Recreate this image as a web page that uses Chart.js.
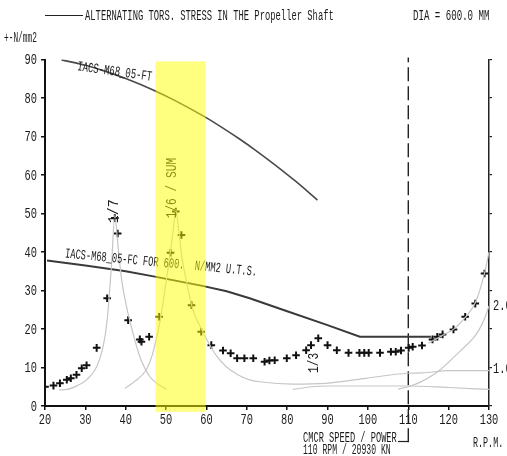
<!DOCTYPE html>
<html>
<head>
<meta charset="utf-8">
<script src="https://cdn.jsdelivr.net/npm/chart.js@4.4.1/dist/chart.umd.min.js"></script>
<style>
    body { margin: 0; background: #fff; }
    canvas { display: block; }
</style>
</head>
<body>
<canvas id="torsChart" width="507" height="456"></canvas>
<script>
// measured alternating stress (+ marks), rpm -> N/mm2
var sumRpm = [20, 22.1, 23.7, 25.4, 26.4, 27.8, 29.1, 30.3, 32.8, 35.4, 37.3, 38.0, 40.6, 43.5, 43.9, 45.8, 48.3, 51.1, 52.4, 53.8, 56.3, 58.7, 61.2, 64.1, 66.0, 67.6, 69.4, 71.6, 74.4, 75.6, 76.9, 79.9, 82.2, 84.7, 85.9, 87.7, 90.0, 92.3, 95.2, 97.9, 99.1, 100.2, 103.0, 105.7, 106.9, 108.2, 110.1, 111.1, 113.4, 116.0, 117.2, 118.5, 121.2, 124.1, 126.6, 128.9];
var sumStress = [5.0, 5.3, 5.9, 6.8, 7.2, 8.1, 9.8, 10.6, 15.1, 28.0, 48.8, 44.8, 22.3, 17.3, 16.7, 18.0, 23.2, 39.8, 50.5, 44.4, 26.2, 19.3, 15.8, 14.4, 13.7, 12.4, 12.4, 12.4, 11.5, 11.8, 11.9, 12.4, 13.2, 14.5, 15.8, 17.6, 15.8, 14.5, 13.8, 13.8, 13.8, 13.8, 13.8, 14.1, 14.1, 14.4, 15.1, 15.4, 15.7, 17.3, 18.0, 18.6, 19.9, 23.2, 26.6, 34.4];

// order curves (thin grey)
var ord7Rpm = [23.5, 25.4, 28, 30.3, 32.8, 34.4, 35.4, 36.5, 37.3, 38.1, 39.0, 40.2, 41.8, 43.5, 46.0, 50.1];
var ord7Stress = [4.2, 4.3, 5.3, 6.8, 10.2, 15.4, 22.3, 37.0, 49.5, 41.4, 32.7, 25.8, 18.9, 12.8, 7.6, 4.3];
var ord6Rpm = [39.8, 42.0, 45.1, 46.5, 48.4, 49.7, 50.9, 51.8, 52.4, 53.2, 54.0, 55.0, 56.5, 59.1, 61.0, 62.5, 64.9, 68.0, 70.7, 73.2, 81.4, 89.6, 99.5, 109.8, 113.5, 120.1, 130];
var ord6Stress = [4.6, 6.2, 9.4, 13.0, 21.5, 30.0, 38.8, 46.0, 51.0, 45.0, 38.0, 32.7, 25.5, 19.3, 15.5, 13.0, 10.2, 8.0, 6.8, 6.3, 5.7, 5.9, 7.2, 8.5, 8.6, 9.2, 9.2];
var ord3Rpm = [81.4, 86, 89.6, 100, 109.8, 120, 130];
var ord3Stress = [4.3, 5.0, 5.2, 5.2, 5.2, 4.8, 4.3];
var ordHiRpm = [107.5, 110, 113, 116, 118, 120.1, 122, 124, 126, 127.5, 129, 130];
var ordHiStress = [4.4, 5.0, 6.2, 8.0, 9.5, 11.5, 13.4, 15.4, 17.5, 19.7, 23.0, 26.0];
var sumLineRpm = [115, 118.5, 121.2, 124.1, 126.6, 128.9, 130];
var sumLineStress = [16.3, 18.4, 19.9, 23.0, 26.8, 34.5, 40.0];

// IACS limits
var ftRpm = [24.1, 30, 35.2, 40, 47.2, 52, 59.6, 64, 68.2, 72, 76.4, 82, 87.5];
var ftLimit = [89.9, 88.5, 86.85, 85.05, 81.9, 79.45, 75.1, 72.25, 69.35, 66.55, 63.1, 58.45, 53.5];
var fcRpm = [20.5, 30, 40, 47.2, 59, 65, 70.7, 80, 90, 98, 115.6];
var fcLimit = [37.8, 36.5, 35.0, 33.6, 31.2, 29.8, 28.0, 24.6, 21.0, 18.0, 18.0];

// barred speed range, CMCR speed, axis ticks
var barredRange = [47.4, 59.8];
var barredStress = [-1.5, 89.5];
var mcrRpm = [110, 110];
var mcrStress = [-9.4, 90.5];
var rpmTicks = [20, 30, 40, 50, 60, 70, 80, 90, 100, 110, 120, 130];
var stressTicks = [0, 10, 20, 30, 40, 50, 60, 70, 80, 90];
var rightLabels = ['1.0', '2.0'];
var rightLabelAt = [9.9, 26.2];

function zip(xs, ys) {
    return xs.map(function (v, i) { return { x: v, y: ys[i] }; });
}

function narrowText(ctx, s, x, y, o) {
    o = o || {};
    ctx.save();
    ctx.font = (o.size || 14) + 'px "Liberation Mono", monospace';
    ctx.fillStyle = o.color || '#1a1a1a';
    ctx.textAlign = o.align || 'left';
    ctx.textBaseline = o.base || 'alphabetic';
    ctx.translate(x, y);
    if (o.rot) ctx.rotate(o.rot);
    ctx.scale(o.sx || 0.65, 1);
    ctx.fillText(s, 0, 0);
    ctx.restore();
}

var deg = Math.PI / 180;

var plotTexts = {
    id: 'plotTexts',
    afterDatasetsDraw: function (chart) {
        var ctx = chart.ctx, xs = chart.scales.x, ys = chart.scales.y;
        var px = function (v) { return xs.getPixelForValue(v); };
        var py = function (v) { return ys.getPixelForValue(v); };

        narrowText(ctx, 'IACS-M68_05-FT', px(27.9), py(87.2), { rot: 8 * deg, sx: 0.64 });
        narrowText(ctx, 'IACS-M68_05-FC FOR 600.  N/MM2 U.T.S.', px(24.9), py(38.6), { rot: 5.5 * deg, sx: 0.62 });
        narrowText(ctx, '1/7', px(37.06), py(50.6), { rot: -90 * deg, align: 'center', base: 'middle', sx: 0.95 });
        narrowText(ctx, '1/6 / SUM', px(51.6), py(56.6), { rot: -90 * deg, align: 'center', base: 'middle', sx: 0.8 });
        narrowText(ctx, '1/3', px(86.75), py(11.2), { rot: -90 * deg, align: 'center', base: 'middle', sx: 0.8 });

        // barred range, laid over the curves
        var l = px(barredRange[0]), r = px(barredRange[1]);
        var t = py(barredStress[1]), b = py(barredStress[0]);
        ctx.save();
        ctx.fillStyle = 'rgba(255,255,0,0.5)';
        ctx.fillRect(l, t, r - l, b - t);
        ctx.restore();
    },
    afterDraw: function (chart) {
        var ctx = chart.ctx, xs = chart.scales.x, ys = chart.scales.y, y2 = chart.scales.y2;

        rpmTicks.forEach(function (v) {
            narrowText(ctx, String(v), xs.getPixelForValue(v), xs.top + 18, { align: 'center', sx: 0.74 });
        });
        stressTicks.forEach(function (v) {
            narrowText(ctx, String(v), ys.right - 8, ys.getPixelForValue(v) + 1, { align: 'right', base: 'middle', sx: 0.74 });
        });
        rightLabels.forEach(function (s, i) {
            narrowText(ctx, s, y2.left + 4, ys.getPixelForValue(rightLabelAt[i]) + 1, { base: 'middle', sx: 0.74 });
        });

        // header
        ctx.save();
        ctx.strokeStyle = '#222';
        ctx.lineWidth = 1;
        ctx.beginPath();
        ctx.moveTo(45, 15.5);
        ctx.lineTo(83, 15.5);
        ctx.stroke();
        ctx.restore();
        narrowText(ctx, 'ALTERNATING TORS. STRESS IN THE Propeller Shaft', 85, 20, { sx: 0.63 });
        narrowText(ctx, 'DIA = 600.0 MM', 413, 20, { sx: 0.65 });
        narrowText(ctx, '+-N/mm2', 4, 42, { sx: 0.56 });

        // footer
        var mx = xs.getPixelForValue(mcrRpm[0]);
        narrowText(ctx, 'CMCR SPEED / POWER', 303, 442, { sx: 0.62 });
        narrowText(ctx, '110 RPM / 20930 KN', 303, 453.5, { sx: 0.58 });
        narrowText(ctx, 'R.P.M.', 473, 447, { sx: 0.6 });
        ctx.save();
        ctx.strokeStyle = '#222';
        ctx.lineWidth = 1.2;
        ctx.beginPath();
        ctx.moveTo(398, 441.5);
        ctx.lineTo(mx, 441.5);
        ctx.stroke();
        ctx.restore();
    }
};

var greyLine = {
    showLine: true,
    pointRadius: 0,
    borderColor: '#c6c6c6',
    borderWidth: 1.2,
    cubicInterpolationMode: 'monotone'
};

function grey(xs, ys) {
    return Object.assign({ data: zip(xs, ys) }, greyLine);
}

var ctx = document.getElementById('torsChart').getContext('2d');
window.torsChart = new Chart(ctx, {
    type: 'scatter',
    data: {
        datasets: [
            grey(ord7Rpm, ord7Stress),
            grey(ord6Rpm, ord6Stress),
            grey(ord3Rpm, ord3Stress),
            grey(ordHiRpm, ordHiStress),
            grey(sumLineRpm, sumLineStress),
            {
                data: zip(ftRpm, ftLimit),
                showLine: true,
                pointRadius: 0,
                borderColor: '#4a4a4a',
                borderWidth: 1.6,
                cubicInterpolationMode: 'monotone'
            },
            {
                data: zip(fcRpm, fcLimit),
                showLine: true,
                pointRadius: 0,
                borderColor: '#3a3a3a',
                borderWidth: 2,
                tension: 0
            },
            {
                data: zip(mcrRpm, mcrStress),
                showLine: true,
                pointRadius: 0,
                borderColor: '#111',
                borderWidth: 1.3,
                borderDash: [14, 5],
                clip: false
            },
            {
                data: zip(sumRpm, sumStress),
                showLine: false,
                pointStyle: 'cross',
                pointRadius: 3.8,
                borderColor: '#111',
                borderWidth: 2
            }
        ]
    },
    options: {
        responsive: false,
        animation: false,
        layout: { padding: { top: 59.5, left: 0, right: 0, bottom: 0 } },
        plugins: {
            legend: { display: false },
            tooltip: { enabled: false }
        },
        scales: {
            x: {
                type: 'linear',
                min: 20,
                max: 130,
                afterFit: function (s) { s.height = 50; },
                afterBuildTicks: function (s) { s.ticks = rpmTicks.map(function (v) { return { value: v }; }); },
                ticks: { display: false },
                grid: { drawOnChartArea: false, drawTicks: true, tickLength: 4, color: '#111', lineWidth: 1.5 },
                border: { display: true, color: '#111', width: 2 }
            },
            y: {
                min: 0,
                max: 90,
                afterFit: function (s) { s.width = 45; },
                afterBuildTicks: function (s) { s.ticks = stressTicks.map(function (v) { return { value: v }; }); },
                ticks: { display: false },
                grid: { drawOnChartArea: false, drawTicks: true, tickLength: 4, color: '#111', lineWidth: 1.5 },
                border: { display: true, color: '#111', width: 2 }
            },
            y2: {
                position: 'right',
                min: 0,
                max: 90,
                afterFit: function (s) { s.width = 18; },
                afterBuildTicks: function (s) { s.ticks = stressTicks.map(function (v) { return { value: v }; }); },
                ticks: { display: false },
                grid: { drawOnChartArea: false, drawTicks: true, tickLength: 3, color: '#222', lineWidth: 1.2 },
                border: { display: true, color: '#222', width: 1.5 }
            }
        }
    },
    plugins: [plotTexts]
});
</script>
</body>
</html>
